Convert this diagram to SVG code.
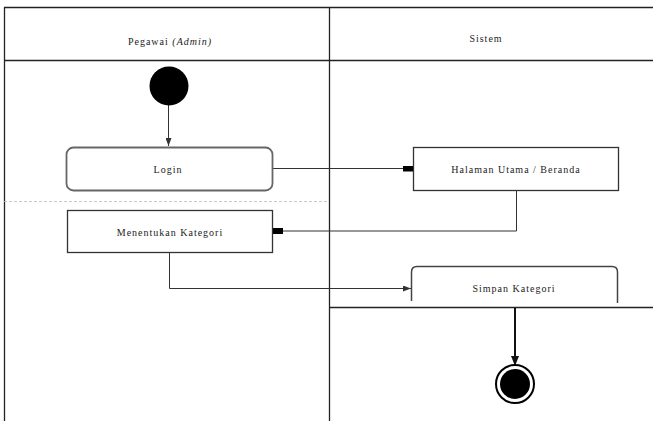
<svg xmlns="http://www.w3.org/2000/svg" width="653" height="421" viewBox="0 0 653 421">
  <style>
    .lane { stroke: #222; stroke-width: 1.3; fill: none; }
    .box { fill: #fff; stroke: #333; stroke-width: 1.3; }
    .rbox { fill: #fff; stroke: #666; stroke-width: 1.8; }
    .conn { stroke: #333; stroke-width: 1; fill: none; }
    text { font-family: "Liberation Serif", "DejaVu Serif", serif; font-size: 10px; fill: #222; text-anchor: middle; letter-spacing: 1px; }
  </style>
  <defs>
    <marker id="sq" viewBox="0 0 10 6" refX="10" refY="3" markerWidth="10" markerHeight="6" markerUnits="userSpaceOnUse" orient="auto">
      <rect x="0" y="0" width="10" height="6" fill="#000"/>
    </marker>
    <marker id="tip" viewBox="0 0 8 6" refX="8" refY="3" markerWidth="8" markerHeight="6" markerUnits="userSpaceOnUse" orient="auto">
      <path d="M0,0 L8,3 L0,6 Z" fill="#333"/>
    </marker>
    <marker id="tipBig" viewBox="0 0 10 10" refX="10" refY="5" markerWidth="10" markerHeight="10" markerUnits="userSpaceOnUse" orient="auto">
      <path d="M0,1 L10,5 L0,9 Z" fill="#111"/>
    </marker>
  </defs>

  <!-- swimlane frame -->
  <g id="lanes">
    <path class="lane" d="M4,7.5 H653 M4,60.5 H653 M4.5,7 V421 M329.5,7 V421 M330,307.5 H653"/>
    <line x1="4" y1="201.5" x2="329" y2="201.5" stroke="#bbb" stroke-width="0.8" stroke-dasharray="3,2"/>
    <text x="170" y="45">Pegawai <tspan font-style="italic">(Admin)</tspan></text>
    <text x="486" y="42">Sistem</text>
  </g>

  <!-- connectors -->
  <g id="connectors">
    <line class="conn" x1="168.5" y1="105" x2="168.5" y2="146" marker-end="url(#tip)"/>
    <polyline class="conn" points="273,168.5 413,168.5" marker-end="url(#sq)"/>
    <polyline class="conn" points="516.5,191 516.5,231 273,231" marker-end="url(#sq)"/>
    <polyline class="conn" points="169.5,252 169.5,288.5 411,288.5" stroke="#555" marker-end="url(#tip)"/>
    <line x1="515" y1="308" x2="515" y2="366" stroke="#111" stroke-width="2" marker-end="url(#tipBig)"/>
  </g>

  <g id="start">
    <circle cx="169" cy="86" r="19.5" fill="#000"/>
  </g>

  <g id="login">
    <rect class="rbox" x="66.5" y="147.5" width="206" height="43" rx="7"/>
    <text x="168" y="173">Login</text>
  </g>

  <g id="beranda">
    <rect class="box" x="413.5" y="147.5" width="205" height="43"/>
    <text x="516" y="173">Halaman Utama / Beranda</text>
  </g>

  <g id="kategori">
    <rect class="box" x="67.5" y="210.5" width="205" height="42"/>
    <text x="170" y="236">Menentukan Kategori</text>
  </g>

  <g id="simpan">
    <path d="M411.5,301 V272 Q411.5,266.5 417,266.5 H612 Q617.5,266.5 617.5,272 V303" fill="#fff" stroke="#444" stroke-width="1.5"/>
    <text x="514" y="292">Simpan Kategori</text>
  </g>

  <g id="end">
    <circle cx="515" cy="384" r="19" fill="#fff" stroke="#000" stroke-width="2"/>
    <circle cx="515" cy="384" r="15" fill="#000"/>
  </g>
</svg>
